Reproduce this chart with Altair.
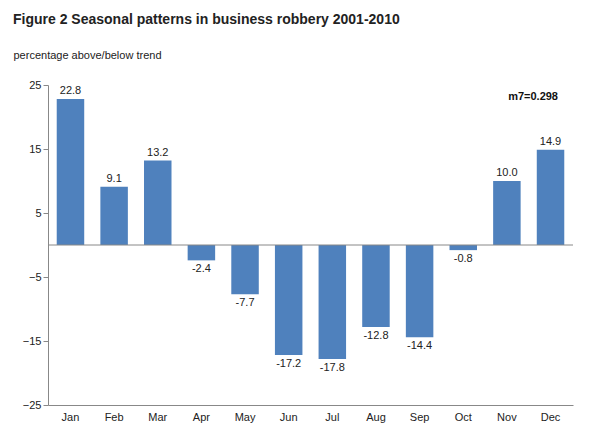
import altair as alt
import pandas as pd

months = ["Jan","Feb","Mar","Apr","May","Jun","Jul","Aug","Sep","Oct","Nov","Dec"]
values = [22.8, 9.1, 13.2, -2.4, -7.7, -17.2, -17.8, -12.8, -14.4, -0.8, 10.0, 14.9]

df = pd.DataFrame({"month": months, "value": values})
df["label"] = df["value"].map(lambda v: f"{v:.1f}")

xenc = alt.X("month:N", sort=months, scale=alt.Scale(paddingInner=0.37, paddingOuter=0.2),
             axis=alt.Axis(title=None, labelAngle=0, ticks=False, domain=True, domainColor="#888",
                           labelFont="Arial", labelFontSize=11, labelColor="#222", labelPadding=6))
yscale = alt.Scale(domain=[-25, 25], nice=False)

base = alt.Chart(df)
bars = base.mark_bar(color="#4F81BD").encode(
    x=xenc,
    y=alt.Y("value:Q", scale=yscale,
            axis=alt.Axis(title="percentage above/below trend", titleAngle=0, titleAlign="left",
                          titleX=-35, titleY=-25, titleFont="Arial", titleFontWeight="normal",
                          titleFontSize=11, titleColor="#222", values=list(range(-25, 30, 5)),
                          labelOverlap=False, grid=False, tickColor="#888", domainColor="#888", tickSize=5,
                          labelFont="Arial", labelFontSize=11, labelColor="#222")),
    y2=alt.datum(0),
)
pos = base.transform_filter("datum.value >= 0").mark_text(dy=-8, font="Arial", fontSize=11, color="#222").encode(
    x=alt.X("month:N", sort=months), y=alt.Y("value:Q", scale=yscale), text="label:N")
neg = base.transform_filter("datum.value < 0").mark_text(dy=9, font="Arial", fontSize=11, color="#222").encode(
    x=alt.X("month:N", sort=months), y=alt.Y("value:Q", scale=yscale), text="label:N")
zero = alt.Chart(pd.DataFrame({"z": [0]})).mark_rule(color="#888").encode(y=alt.Y("z:Q", scale=yscale))
m7 = alt.Chart(pd.DataFrame({"t": ["m7=0.298"]})).mark_text(
    font="Arial", fontSize=11, fontWeight="bold", align="right", color="#111").encode(
    x=alt.value(510), y=alt.value(12), text="t:N")

chart = alt.layer(bars, zero, pos, neg, m7).properties(
    width=525, height=320,
    title=alt.TitleParams("Figure 2 Seasonal patterns in business robbery 2001-2010", anchor="start",
                          frame="bounds", font="Arial", fontSize=14, fontWeight="bold", color="#222", offset=22),
).configure_view(stroke=None)

chart.save("out.html", embed_options={"renderer": "svg", "actions": False})
